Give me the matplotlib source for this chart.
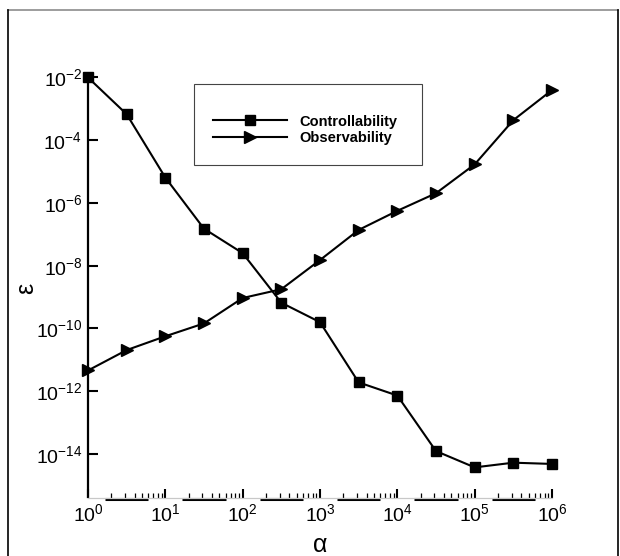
import numpy as np
import matplotlib
matplotlib.use("Agg")
import matplotlib.pyplot as plt
from matplotlib.ticker import NullLocator, LogLocator, NullFormatter
from matplotlib.lines import Line2D
from matplotlib.patches import Rectangle

plt.rcParams['font.family'] = ['Liberation Sans', 'DejaVu Sans']
plt.rcParams['mathtext.fontset'] = 'custom'
plt.rcParams['mathtext.rm'] = 'Liberation Sans'
plt.rcParams['mathtext.it'] = 'Liberation Sans:italic'
plt.rcParams['mathtext.bf'] = 'Liberation Sans:bold'

# ---- data ----
alpha = [1, 3.16, 10, 31.6, 100, 316, 1e3, 3.16e3, 1e4, 3.16e4, 1e5, 3.16e5, 1e6]
controllability_log = [-2.0, -3.17, -5.19, -6.82, -7.60, -9.18, -9.80,
                       -11.72, -12.14, -13.91, -14.43, -14.28, -14.32]
observability_log = [-11.34, -10.69, -10.25, -9.84, -9.03, -8.75, -7.82,
                     -6.86, -6.25, -5.69, -4.77, -3.36, -2.40]
controllability = [10 ** v for v in controllability_log]
observability = [10 ** v for v in observability_log]

xticks = [1, 1e1, 1e2, 1e3, 1e4, 1e5, 1e6]
xticklabels = [r'$\mathregular{10^{0}}$', r'$\mathregular{10^{1}}$', r'$\mathregular{10^{2}}$',
               r'$\mathregular{10^{3}}$', r'$\mathregular{10^{4}}$', r'$\mathregular{10^{5}}$',
               r'$\mathregular{10^{6}}$']
yticks = [1e-2, 1e-4, 1e-6, 1e-8, 1e-10, 1e-12, 1e-14]
yticklabels = [r'$\mathregular{10^{-2}}$', r'$\mathregular{10^{-4}}$', r'$\mathregular{10^{-6}}$',
               r'$\mathregular{10^{-8}}$', r'$\mathregular{10^{-10}}$', r'$\mathregular{10^{-12}}$',
               r'$\mathregular{10^{-14}}$']
series_labels = ['Controllability', 'Observability']

W, H = 620, 556
fig = plt.figure(figsize=(W / 100, H / 100), dpi=100)

def fx(px):
    return px / W

def fy(py):
    return 1 - py / H

left, right, top, bottom = 88, 552, 77.5, 497.5
ax = fig.add_axes([fx(left), fy(bottom), fx(right - left), (bottom - top) / H])

ax.set_xscale('log')
ax.set_yscale('log')
ax.set_xlim(1, 1e6)
ax.set_ylim(10 ** -15.39, 1e-2)

ax.plot(alpha, controllability, color='black', lw=1.5, marker='s', ms=7.7,
        mfc='black', mec='black', clip_on=False, zorder=5, label=series_labels[0])
ax.plot(alpha, observability, color='black', lw=1.5, marker='>', ms=9,
        mfc='black', mec='black', clip_on=False, zorder=5, label=series_labels[1])

for s in ['top', 'right']:
    ax.spines[s].set_visible(False)
ax.spines['left'].set_linewidth(1.6)
ax.spines['left'].set_color('black')
ax.spines['bottom'].set_linewidth(0.9)
ax.spines['bottom'].set_color('#c8c8c8')

# thick black segments under the x axis (Tecplot style)
for d in range(6):
    ax.plot([10 ** (d + 0.22), 10 ** (d + 0.78)], [-0.004, -0.004], color='black', lw=2.2,
            transform=ax.get_xaxis_transform(), clip_on=False, solid_capstyle='butt')

ax.set_xticks(xticks)
ax.set_xticklabels(xticklabels)
ax.xaxis.set_minor_locator(LogLocator(base=10, subs=np.arange(2, 10)))
ax.xaxis.set_minor_formatter(NullFormatter())
ax.set_yticks(yticks)
ax.set_yticklabels(yticklabels)
ax.yaxis.set_minor_locator(NullLocator())

ax.tick_params(axis='x', which='major', direction='in', length=6.5, width=1.5,
               color='black', labelsize=14, pad=4)
ax.tick_params(axis='x', which='minor', direction='in', length=3.5, width=0.9, color='black')
ax.tick_params(axis='y', which='major', direction='in', length=7.5, width=1.5,
               color='black', labelsize=14, pad=4)

# axis titles
fig.text(fx(320), fy(545), 'α', ha='center', va='center', fontsize=18)
fig.text(fx(26), fy(288), 'ε', ha='center', va='center', fontsize=18, rotation=90)

# legend
leg = ax.legend(loc='center left', bbox_to_anchor=(fx(213), fy(130)),
                bbox_transform=fig.transFigure, frameon=False, borderpad=0,
                borderaxespad=0, handlelength=5.1, handletextpad=0.85,
                labelspacing=0.2, prop={'weight': 'bold', 'size': 10.5})
fig.patches.append(Rectangle((fx(194), fy(165)), fx(422 - 194), (165 - 84) / H,
                             transform=fig.transFigure, fill=False,
                             edgecolor='#444444', lw=0.8))

# outer frame
fig.lines.append(Line2D([fx(8), fx(618)], [fy(10), fy(10)], transform=fig.transFigure,
                        color='#8c8c8c', lw=1.2))
fig.lines.append(Line2D([fx(8), fx(8)], [fy(10), fy(556)], transform=fig.transFigure,
                        color='black', lw=1.2))
fig.lines.append(Line2D([fx(618), fx(618)], [fy(10), fy(556)], transform=fig.transFigure,
                        color='black', lw=1.2))

fig.savefig('out.png', dpi=100)
